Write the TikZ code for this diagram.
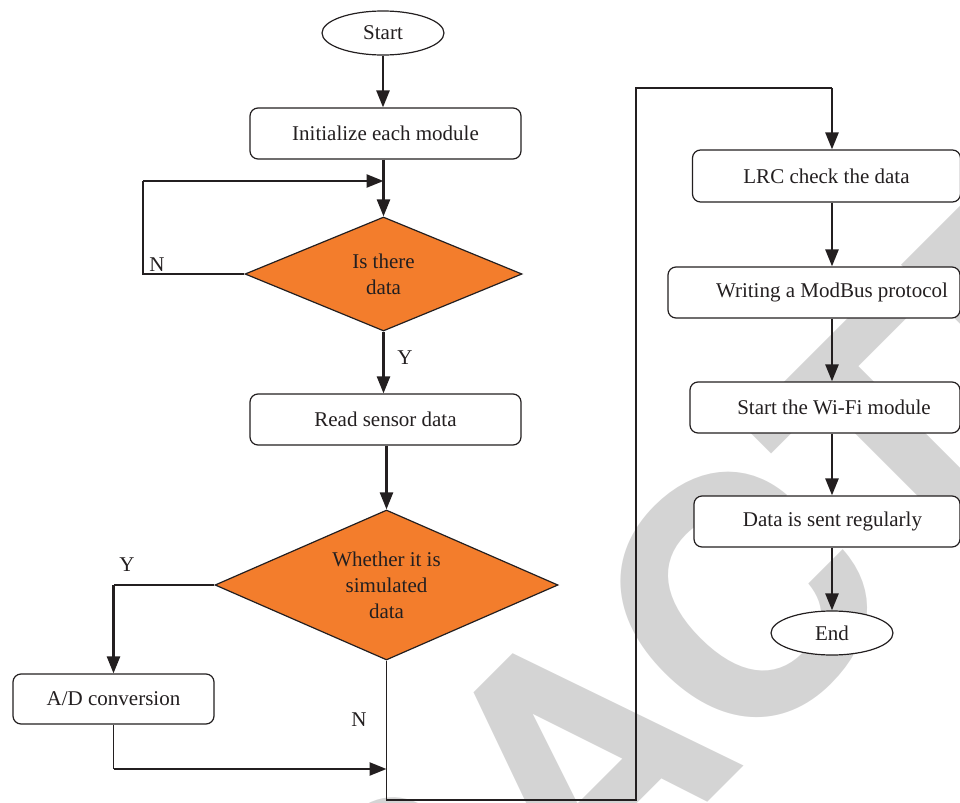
\documentclass[tikz,border=0pt]{standalone}
\usepackage{fontspec}
\setmainfont{Liberation Serif}
\newfontfamily\wmfont{TeX Gyre Heros}
\usetikzlibrary{shapes.geometric,arrows.meta}
\definecolor{orangefill}{RGB}{243,125,44}
\definecolor{wmgray}{RGB}{212,212,212}
\definecolor{inkcol}{RGB}{35,31,32}
\begin{document}
\begin{tikzpicture}[x=0.5pt,y=-0.5pt,
  every node/.style={font=\fontsize{10.5pt}{13pt}\selectfont, text=inkcol},
  procbox/.style={draw=inkcol, line width=0.6pt, rounded corners=4pt, fill=white, minimum height=25.5pt, inner sep=0pt},
  termbox/.style={draw=inkcol, line width=0.6pt, ellipse, fill=white, minimum width=61pt, minimum height=22pt, inner sep=0pt},
  decbox/.style={draw=inkcol, line width=0.6pt, diamond, fill=orangefill, align=center, inner sep=0pt},
  arr/.style={draw=inkcol, line width=1.25pt, -{Triangle[length=8.5pt,width=6.5pt]}},
  thinline/.style={draw=inkcol, line width=0.6pt},
  lbl/.style={inner sep=0pt}
]
\useasboundingbox (0,0) rectangle (960,803);
% watermark
\node[rotate=45, text=wmgray, font=\wmfont\bfseries\fontsize{166.5pt}{170pt}\selectfont, inner sep=0pt] (wm) at (574,765) {RETRACTED};

% left column
\node[termbox] (start) at (383,33) {Start};
\node[procbox, minimum width=135.5pt] (init) at (385.5,133.5) {Initialize each module};
\node[decbox, minimum width=138.5pt, minimum height=57pt, aspect=2.4] (d1) at (383.5,274) {Is there\\data};
\node[procbox, minimum width=135.5pt] (read) at (385.5,419.5) {Read sensor data};
\node[decbox, minimum width=171.5pt, minimum height=75pt, aspect=2.3] (d2) at (386.5,585) {Whether it is\\simulated\\data};
\node[procbox, minimum width=100.5pt, minimum height=25pt] (ad) at (113.5,699) {A/D conversion};

% right column
\node[procbox, minimum width=134pt, minimum height=26pt] (lrc) at (826.5,176) {LRC check the data};
\node[procbox, minimum width=146pt] (write) at (814,292.5) {\hspace*{18pt}Writing a ModBus protocol};
\node[procbox, minimum width=135pt] (wifi) at (825,407.5) {\hspace*{9pt}Start the Wi-Fi module};
\node[procbox, minimum width=133pt] (sent) at (827,521.5) {\hspace*{5.5pt}Data is sent regularly};
\node[termbox] (end) at (832,633) {End};

% labels
\node[lbl] (n1) at (157,265) {N};
\node[lbl] (y1) at (405,358) {Y};
\node[lbl] (y2) at (127,565) {Y};
\node[lbl] (n2) at (359,720) {N};

% coordinates
\coordinate (c1) at (143,181);
\coordinate (c3) at (113.5,769);
\coordinate (c4) at (636,800);
\coordinate (c5) at (832,88);

% connectors left
\draw[arr] (start.south) -- (start.south |- init.north);
\draw[arr] (init.south -| d1.north) -- (d1.north);
\draw[thinline] (d1.west) -| (c1);
\draw[arr] (c1) -- (d1.north |- c1);
\draw[arr] (d1.south) -- (d1.south |- read.north);
\draw[arr] (read.south -| d2.north) -- (d2.north);
\draw[thinline] (d2.west) -- (d2.west -| ad.north);
\draw[arr] (d2.west -| ad.north) -- (ad.north);
\draw[thinline] (ad.south) -- (c3);
\draw[arr] (c3) -- (c3 -| d2.south);
\draw[thinline] (d2.south) |- (c4) |- (c5);
\draw[arr] (c5) -- (c5 |- lrc.north);

% connectors right
\draw[arr] (lrc.south -| c5) -- (write.north -| c5);
\draw[arr] (write.south -| c5) -- (wifi.north -| c5);
\draw[arr] (wifi.south -| c5) -- (sent.north -| c5);
\draw[arr] (sent.south -| c5) -- (end.north);
\end{tikzpicture}
\end{document}
